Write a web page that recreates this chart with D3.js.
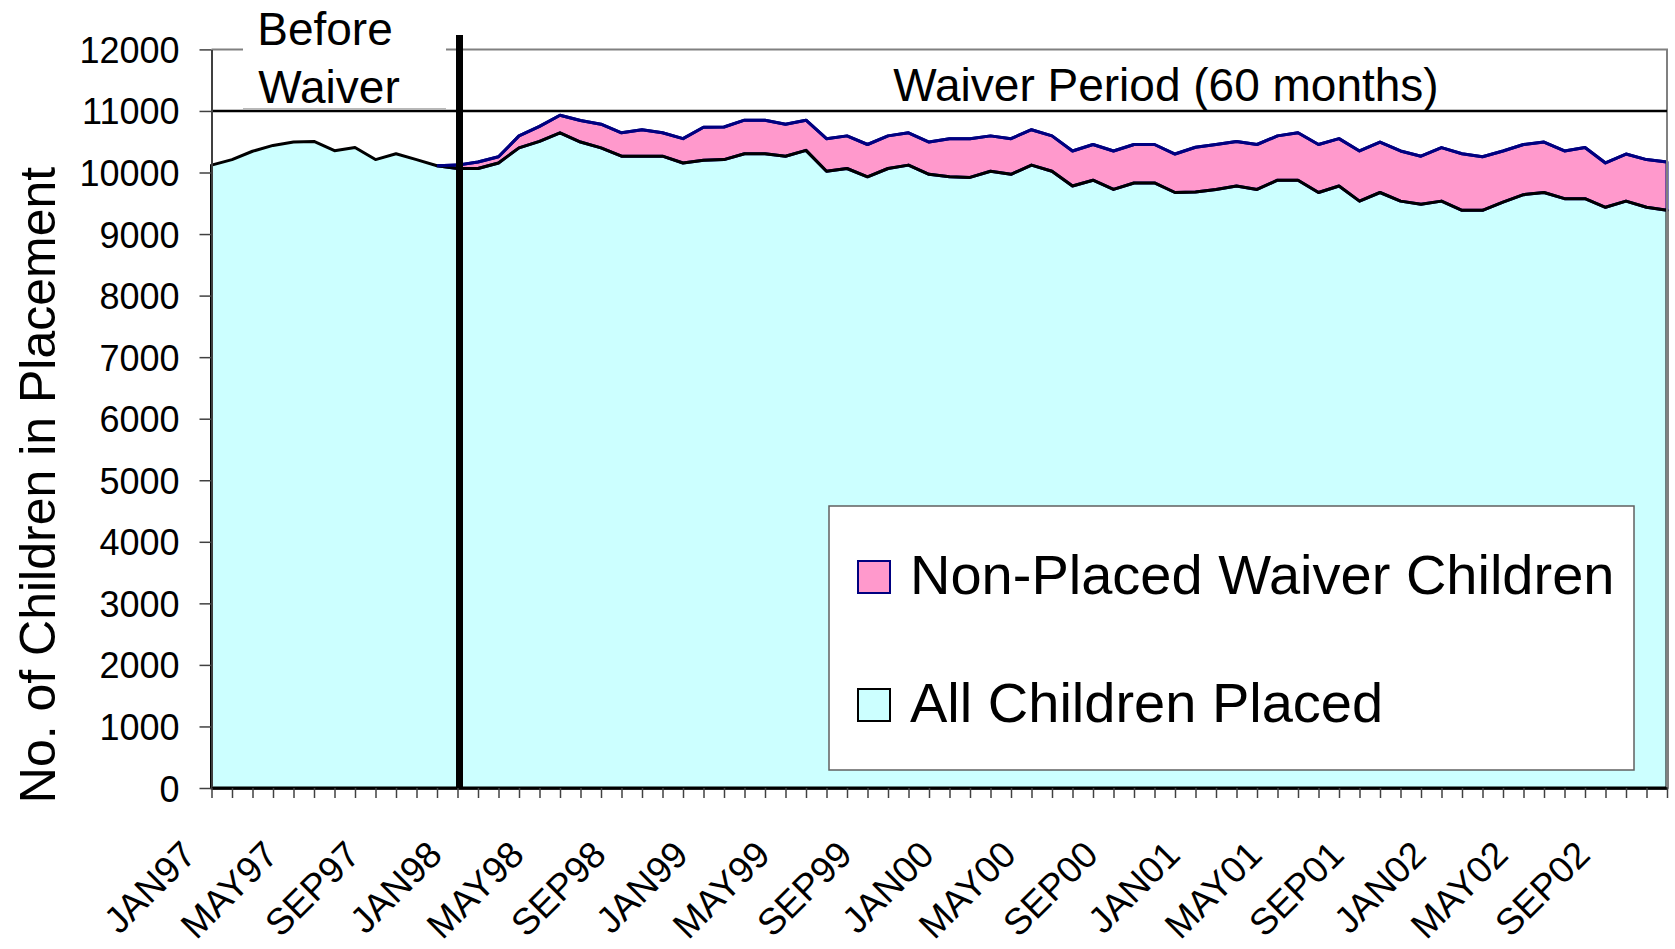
<!DOCTYPE html>
<html>
<head>
<meta charset="utf-8">
<script src="https://cdn.jsdelivr.net/npm/d3@7"></script>
<style>
body { margin: 0; background: #fff; }
text { font-family: "Liberation Sans", Arial, sans-serif; fill: #000; }
</style>
</head>
<body>
<div id="chart"></div>
<script>
// categories
var monthNames = ["JAN","FEB","MAR","APR","MAY","JUN","JUL","AUG","SEP","OCT","NOV","DEC"];
var years = ["97","98","99","00","01","02"];
var months = [];
years.forEach(function(yr) { monthNames.forEach(function(m) { months.push(m + yr); }); });

var tickLabels = ["JAN97","MAY97","SEP97","JAN98","MAY98","SEP98","JAN99","MAY99","SEP99",
                  "JAN00","MAY00","SEP00","JAN01","MAY01","SEP01","JAN02","MAY02","SEP02"];
var yTicks = [0,1000,2000,3000,4000,5000,6000,7000,8000,9000,10000,11000,12000];

// All Children Placed (monthly)
var placed = [10120,10210,10345,10440,10495,10505,10355,10405,10210,10305,10210,10110,
              10065,10065,10155,10400,10505,10645,10495,10400,10265,10265,10265,10155,
              10200,10210,10305,10305,10265,10360,10020,10065,9930,10065,10120,9970,
              9930,9920,10020,9970,10120,10020,9780,9875,9725,9830,9830,9675,
              9685,9725,9780,9725,9875,9875,9675,9780,9535,9675,9535,9485,
              9535,9385,9385,9520,9640,9675,9575,9575,9435,9535,9435,9385];

// Non-Placed Waiver Children (stacked on top), none before the waiver
var nonPlaced = [null,null,null,null,null,null,null,null,null,null,null,0,
                 55,105,100,195,245,285,350,385,380,430,380,395,
                 535,530,545,545,520,490,530,530,525,530,525,525,
                 620,630,575,580,575,575,570,580,625,625,625,625,
                 725,730,725,730,720,770,780,770,815,820,815,780,
                 870,920,870,830,815,820,775,830,720,765,775,785];

var waiverStart = "JAN98";
var seriesNames = ["Non-Placed Waiver Children", "All Children Placed"];

var width = 1675, height = 949;
var plotL = 211.5, plotR = 1667, plotT = 49.4, plotB = 788;

var svg = d3.select("#chart").append("svg")
  .attr("width", width)
  .attr("height", height);

var x = d3.scalePoint().domain(months).range([plotL, plotR]);
var y = d3.scaleLinear().domain([0, 12000]).range([plotB, plotT]);

var data = months.map(function(m, i) {
  return { m: m, p: placed[i], n: nonPlaced[i] };
});
var waiverData = data.filter(function(d) { return d.n !== null; });

function label(g, str, px, py, size, anchor, rot) {
  return g.append("text")
    .attr("text-anchor", anchor || "start")
    .attr("font-size", size)
    .attr("transform", "translate(" + px + "," + py + ")" + (rot ? " rotate(" + rot + ")" : ""))
    .text(str);
}

// areas
var placedArea = d3.area()
  .x(function(d) { return x(d.m); })
  .y0(y(0))
  .y1(function(d) { return y(d.p); });

var waiverArea = d3.area()
  .x(function(d) { return x(d.m); })
  .y0(function(d) { return y(d.p); })
  .y1(function(d) { return y(d.p + d.n); });

var topLine = d3.line()
  .x(function(d) { return x(d.m); })
  .y(function(d) { return y(d.p + d.n); });

svg.append("path")
  .attr("d", placedArea(data))
  .attr("fill", "#ccffff");

svg.append("path")
  .attr("d", waiverArea(waiverData))
  .attr("fill", "#ff99cc")
  .attr("stroke", "#000080")
  .attr("stroke-width", 3)
  .attr("stroke-linejoin", "round");

svg.append("path")
  .attr("d", placedArea(data))
  .attr("fill", "none")
  .attr("stroke", "#000")
  .attr("stroke-width", 3)
  .attr("stroke-linejoin", "round");

svg.append("path")
  .attr("d", topLine(waiverData))
  .attr("fill", "none")
  .attr("stroke", "#000080")
  .attr("stroke-width", 3)
  .attr("stroke-linejoin", "round");

// plot border top / right
svg.append("path")
  .attr("d", "M" + plotL + "," + plotT + "H" + plotR + "V" + plotB)
  .attr("fill", "none")
  .attr("stroke", "#808080")
  .attr("stroke-width", 2);

// 11000 line
svg.append("line")
  .attr("x1", plotL).attr("x2", plotR)
  .attr("y1", y(11000)).attr("y2", y(11000))
  .attr("stroke", "#000").attr("stroke-width", 2.5);

// y axis
var yAxis = svg.append("g")
  .attr("transform", "translate(" + plotL + ",0)")
  .call(d3.axisLeft(y).tickValues(yTicks).tickSize(12).tickSizeOuter(0)
    .tickFormat(function(d) { return String(d); }));
yAxis.select(".domain").attr("stroke", "#404040").attr("stroke-width", 2);
yAxis.selectAll(".tick line").attr("stroke", "#404040").attr("stroke-width", 1.5);
yAxis.selectAll(".tick text")
  .attr("x", null).attr("dy", null)
  .attr("font-size", 36)
  .attr("font-family", "Liberation Sans, Arial, sans-serif")
  .attr("fill", "#000")
  .attr("transform", "translate(-32,13)");

// x axis
var xAxis = svg.append("g")
  .attr("transform", "translate(0," + plotB + ")")
  .call(d3.axisBottom(x).tickSize(10).tickSizeOuter(0)
    .tickFormat(function(d) { return tickLabels.indexOf(d) >= 0 ? d : ""; }));
xAxis.select(".domain").attr("stroke", "#000").attr("stroke-width", 2.5);
xAxis.selectAll(".tick line").attr("stroke", "#404040").attr("stroke-width", 1.5);
xAxis.selectAll(".tick text")
  .attr("y", null).attr("dy", null)
  .attr("font-size", 37)
  .attr("font-family", "Liberation Sans, Arial, sans-serif")
  .attr("fill", "#000")
  .attr("text-anchor", "end")
  .attr("transform", "translate(-14,69) rotate(-45)");

// "Before Waiver" box
var bx0 = 243, bx1 = 446;
svg.append("rect")
  .attr("x", bx0).attr("y", 0)
  .attr("width", bx1 - bx0).attr("height", y(11000) - 1)
  .attr("fill", "#fff");
svg.append("line")
  .attr("x1", bx0).attr("x2", bx1)
  .attr("y1", y(11000) - 2).attr("y2", y(11000) - 2)
  .attr("stroke", "#a0a0a0").attr("stroke-width", 1.5);
label(svg, "Before", 325, 45, 46, "middle");
label(svg, "Waiver", 329, 103, 46, "middle");

// waiver start line
svg.append("line")
  .attr("x1", x(waiverStart) + 2).attr("x2", x(waiverStart) + 2)
  .attr("y1", 35).attr("y2", plotB)
  .attr("stroke", "#000").attr("stroke-width", 7);

label(svg, "Waiver Period (60 months)", 1166, 101, 46, "middle");

// y axis title
label(svg, "No. of Children in Placement", 55, 485, 50, "middle", -90);

// legend
var lg = svg.append("g");
lg.append("rect")
  .attr("x", 829).attr("y", 506)
  .attr("width", 805).attr("height", 264)
  .attr("fill", "#fff")
  .attr("stroke", "#606060").attr("stroke-width", 1.5);
var legendItems = [
  { name: seriesNames[0], fill: "#ff99cc", stroke: "#000080", yy: 577 },
  { name: seriesNames[1], fill: "#ccffff", stroke: "#000", yy: 705 }
];
legendItems.forEach(function(it) {
  lg.append("rect")
    .attr("x", 858).attr("y", it.yy - 16)
    .attr("width", 32).attr("height", 32)
    .attr("fill", it.fill)
    .attr("stroke", it.stroke).attr("stroke-width", 2);
  label(lg, it.name, 910, it.yy + 17, 56, "start");
});
</script>
</body>
</html>
